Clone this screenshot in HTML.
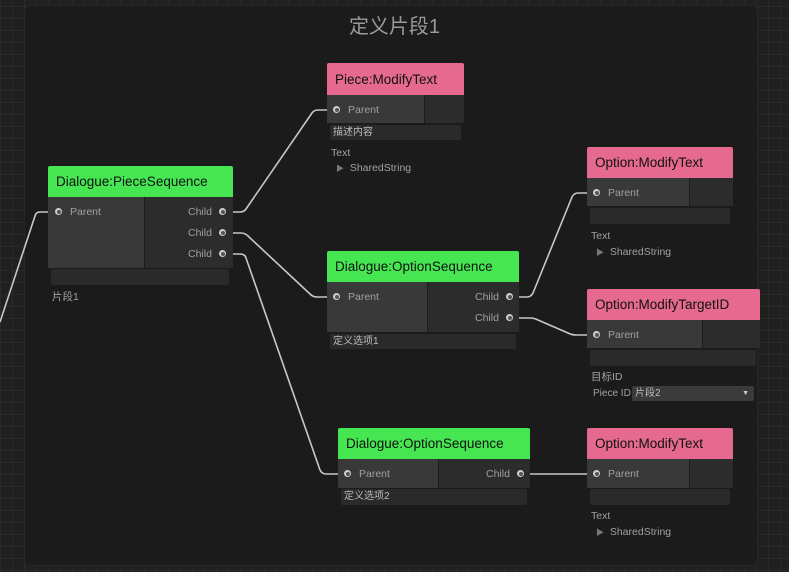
<!DOCTYPE html>
<html><head><meta charset="utf-8"><style>
*{margin:0;padding:0;box-sizing:border-box}
body{width:789px;height:572px;overflow:hidden;position:relative;font-family:"Liberation Sans","Noto Sans CJK SC",sans-serif;
background-color:#202020;
background-image:linear-gradient(#2a2a2a 1px,transparent 1px),linear-gradient(90deg,#2a2a2a 1px,transparent 1px);
background-size:12px 12px;background-position:0 6px}
.panel{position:absolute;left:24px;top:5px;width:734px;height:561px;background:#1b1b1b;border-radius:6px;border:1px solid #262626}
.title{position:absolute;left:0;width:789px;top:10px;text-align:center;color:#9a9a9a;font-size:20px}
.a{position:absolute}
.hd{position:absolute;color:#111;font-size:13.5px;padding-left:8px;display:flex;align-items:center;border-radius:2px 2px 0 0}
.g{background:#45e652}.p{background:#e66a8f}
.l{position:absolute;background:#393939}.r{position:absolute;background:#2c2c2c}
.f{position:absolute;background:#2a2a2a;border-radius:2px;color:#bdbdbd;font-size:10px;padding-left:3px;line-height:15px}
.t{position:absolute;color:#a0a0a0;font-size:10.5px;line-height:12px;white-space:nowrap}
.dot{position:absolute;width:7px;height:7px;border-radius:50%;background:#cfcfcf}
.dot::after{content:"";position:absolute;left:1.5px;top:1.5px;width:4px;height:4px;border-radius:50%;background:#555}
.tri{color:#777;font-size:8px}
</style></head><body>
<div class="panel"></div>
<div class="title">定义片段1</div>
<svg class="a" style="left:0;top:0" width="789" height="572">
<g fill="none" stroke="#c8c8c8" stroke-width="1.6" stroke-linejoin="round">
<path d="M0 322 L35 216 Q36 212 40 212 L48 212"/>
<path d="M226 212 L240 212 Q244 212 246 209 L312 113 Q314 110 318 110 L332 110"/>
<path d="M226 233 L241 233 Q245 233 248 236 L310 294 Q313 297 317 297 L332 297"/>
<path d="M226 254 L240 254 Q245 254 246 258 L320 470 Q322 474 326 474 L343 474"/>
<path d="M512 297 L527 297 Q531 297 533 293 L572 197 Q574 193 578 193 L592 193"/>
<path d="M512 318 L530 318 Q534 318 538 320 L568 333 Q572 335 576 335 L592 335"/>
<path d="M523 474 L592 474"/>
</g></svg>

<!-- PieceSequence -->
<div class="hd g" style="left:48px;top:166px;width:185px;height:31px">Dialogue:PieceSequence</div>
<div class="l" style="left:48px;top:197px;width:96px;height:71px"></div>
<div class="r" style="left:145px;top:197px;width:88px;height:71px"></div>
<div class="dot" style="left:55px;top:208px"></div><div class="t" style="left:70px;top:206px">Parent</div>
<div class="t" style="left:188px;top:206px">Child</div><div class="dot" style="left:219px;top:208px"></div>
<div class="t" style="left:188px;top:227px">Child</div><div class="dot" style="left:219px;top:229px"></div>
<div class="t" style="left:188px;top:248px">Child</div><div class="dot" style="left:219px;top:250px"></div>
<div class="f" style="left:51px;top:269px;width:178px;height:16px"></div>
<div class="t" style="left:52px;top:291px">片段1</div>

<!-- Piece:ModifyText -->
<div class="hd p" style="left:327px;top:63px;width:137px;height:32px">Piece:ModifyText</div>
<div class="l" style="left:327px;top:95px;width:97px;height:28px"></div>
<div class="r" style="left:425px;top:95px;width:39px;height:28px"></div>
<div class="dot" style="left:333px;top:106px"></div><div class="t" style="left:348px;top:104px">Parent</div>
<div class="f" style="left:330px;top:125px;width:131px;height:15px">描述内容</div>
<div class="t" style="left:331px;top:147px">Text</div>
<div class="t" style="left:336px;top:162px"><span class="tri">▶</span>&nbsp; SharedString</div>

<!-- Option:ModifyText top -->
<div class="hd p" style="left:587px;top:147px;width:146px;height:31px">Option:ModifyText</div>
<div class="l" style="left:587px;top:178px;width:102px;height:28px"></div>
<div class="r" style="left:690px;top:178px;width:43px;height:28px"></div>
<div class="dot" style="left:593px;top:189px"></div><div class="t" style="left:608px;top:187px">Parent</div>
<div class="f" style="left:590px;top:208px;width:140px;height:16px"></div>
<div class="t" style="left:591px;top:230px">Text</div>
<div class="t" style="left:596px;top:246px"><span class="tri">▶</span>&nbsp; SharedString</div>

<!-- OptionSequence 1 -->
<div class="hd g" style="left:327px;top:251px;width:192px;height:31px">Dialogue:OptionSequence</div>
<div class="l" style="left:327px;top:282px;width:100px;height:50px"></div>
<div class="r" style="left:428px;top:282px;width:91px;height:50px"></div>
<div class="dot" style="left:333px;top:293px"></div><div class="t" style="left:348px;top:291px">Parent</div>
<div class="t" style="left:475px;top:291px">Child</div><div class="dot" style="left:506px;top:293px"></div>
<div class="t" style="left:475px;top:312px">Child</div><div class="dot" style="left:506px;top:314px"></div>
<div class="f" style="left:330px;top:334px;width:186px;height:15px">定义选项1</div>

<!-- ModifyTargetID -->
<div class="hd p" style="left:587px;top:289px;width:173px;height:31px">Option:ModifyTargetID</div>
<div class="l" style="left:587px;top:320px;width:115px;height:28px"></div>
<div class="r" style="left:703px;top:320px;width:57px;height:28px"></div>
<div class="dot" style="left:593px;top:331px"></div><div class="t" style="left:608px;top:329px">Parent</div>
<div class="f" style="left:590px;top:350px;width:166px;height:16px"></div>
<div class="t" style="left:591px;top:371px">目标ID</div>
<div class="t" style="left:593px;top:388px;font-size:10px">Piece ID</div>
<div class="f" style="left:632px;top:386px;width:122px;height:15px;background:#3a3a3a">片段2<span style="position:absolute;right:5px;top:0;font-size:7px;color:#ccc">▼</span></div>

<!-- OptionSequence 2 -->
<div class="hd g" style="left:338px;top:428px;width:192px;height:31px">Dialogue:OptionSequence</div>
<div class="l" style="left:338px;top:459px;width:100px;height:29px"></div>
<div class="r" style="left:439px;top:459px;width:91px;height:29px"></div>
<div class="dot" style="left:344px;top:470px"></div><div class="t" style="left:359px;top:468px">Parent</div>
<div class="t" style="left:486px;top:468px">Child</div><div class="dot" style="left:517px;top:470px"></div>
<div class="f" style="left:341px;top:489px;width:186px;height:16px">定义选项2</div>

<!-- Option:ModifyText bottom -->
<div class="hd p" style="left:587px;top:428px;width:146px;height:31px">Option:ModifyText</div>
<div class="l" style="left:587px;top:459px;width:102px;height:29px"></div>
<div class="r" style="left:690px;top:459px;width:43px;height:29px"></div>
<div class="dot" style="left:593px;top:470px"></div><div class="t" style="left:608px;top:468px">Parent</div>
<div class="f" style="left:590px;top:489px;width:140px;height:16px"></div>
<div class="t" style="left:591px;top:510px">Text</div>
<div class="t" style="left:596px;top:526px"><span class="tri">▶</span>&nbsp; SharedString</div>
</body></html>
